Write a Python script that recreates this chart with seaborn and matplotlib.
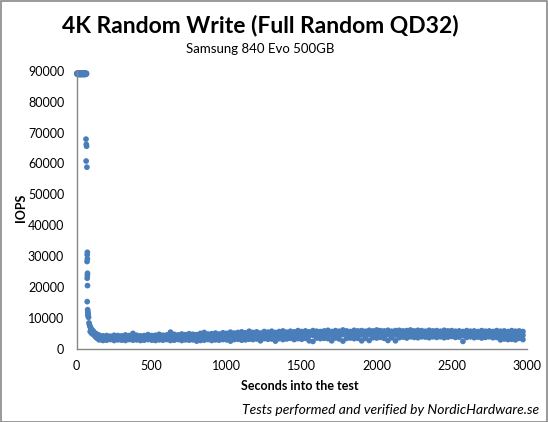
import numpy as np
import pandas as pd
import matplotlib
matplotlib.use("Agg")
import matplotlib.pyplot as plt
import seaborn as sns
from matplotlib.patches import Rectangle

# ---- data ----
# initial burst plateau
burst_t = [0, 2, 4, 6, 8, 10, 12, 14, 16, 18, 20, 22, 24, 26, 28, 30, 32, 34,
           36, 38, 40, 42, 44, 46, 48, 50, 52, 54, 56, 58, 60, 62, 64, 66]
burst_v = [89200, 89000, 89300, 88900, 89100, 89400, 89000, 89200, 88800, 89300,
           89100, 89000, 89400, 88900, 89200, 89100, 88800, 89300, 89000, 89200,
           89400, 88900, 89100, 89300, 89000, 88800, 89200, 89400, 89000, 89100,
           88900, 89300, 89000, 89200]

# transition points after the burst
drop_t = [62, 64, 66, 63, 68,
          71, 70, 71, 69, 72, 71, 70, 72, 70,
          73, 74, 75, 76, 77, 79, 76,
          82, 85, 88, 92, 95, 100, 105, 110, 115, 120, 128, 135, 142,
          90, 98, 108, 118, 125, 132, 140, 148]
drop_v = [67900, 66200, 65600, 60800, 58800,
          31200, 30400, 29100, 28200, 24400, 23700, 22800, 20400, 15200,
          12600, 12000, 11500, 11000, 10500, 10100, 10800,
          8300, 7700, 7200, 6800, 6500, 6000, 5900, 5600, 5300, 5000, 4800, 4600, 4400,
          5500, 5000, 4600, 4300, 3800, 3500, 3200, 3000]

# steady-state band, every 25 s from 150 s to 2975 s
band_t = list(range(150, 3000, 25))
band_hi = [
    4300, 4100, 4200, 4000, 4300, 4200, 4100, 4400, 4200, 4900,   # 150-375
    4300, 4100, 4200, 4500, 4200, 4300, 4600, 4300, 4400, 5300,   # 400-625
    4600, 4400, 4700, 4500, 4800, 4600, 4500, 4900, 5200, 4700,   # 650-875
    4800, 5000, 4700, 5100, 4900, 5300, 5000, 5200, 5400, 5100,   # 900-1125
    5600, 5200, 5400, 5000, 5500, 5300, 5600, 5200, 5500, 5700,   # 1150-1375
    5300, 5600, 5400, 5800, 5500, 5700, 5400, 5800, 5600, 5500,   # 1400-1625
    5700, 5900, 5500, 5800, 5600, 6000, 5700, 5500, 5900, 5700,   # 1650-1875
    5800, 5600, 5900, 5700, 6000, 5800, 5700, 5900, 5600, 5800,   # 1900-2125
    5900, 5700, 5800, 6000, 5700, 5900, 5800, 5600, 5900, 5700,   # 2150-2375
    5800, 5600, 5900, 5700, 5800, 5600, 5700, 5500, 5800, 5600,   # 2400-2625
    5700, 5500, 5800, 5600, 5700, 5500, 5800, 5600, 5700, 5500,   # 2650-2875
    5800, 5600, 5700, 5500,                                       # 2900-2975
]
band_mid = [
    3500, 3300, 3400, 3200, 3500, 3400, 3300, 3600, 3400, 3700,
    3500, 3300, 3400, 3700, 3400, 3500, 3700, 3400, 3600, 4100,
    3600, 3700, 3500, 3600, 3800, 3600, 3500, 3800, 3900, 3700,
    3700, 3900, 3600, 4000, 3800, 4000, 3900, 4100, 4200, 3900,
    4300, 4000, 4200, 3900, 4300, 4100, 4400, 4000, 4300, 4400,
    4200, 4400, 4200, 4500, 4300, 4500, 4200, 4300, 4500, 4300,
    4500, 4600, 4300, 4600, 4400, 4500, 4500, 4400, 4600, 4500,
    4400, 4500, 4500, 4600, 4700, 4700, 4500, 4500, 4500, 4400,
    4700, 4700, 4600, 4900, 4600, 4700, 4800, 4600, 4700, 4700,
    4700, 4700, 4700, 4700, 4800, 4600, 4600, 4200, 4700, 4700,
    4600, 4600, 4600, 4600, 4700, 4500, 4700, 4300, 4400, 4300,
    4500, 4200, 4500, 4300,
]
band_lo = [
    2800, 2600, 2700, 2900, 2600, 2800, 2700, 2600, 2900, 2700,
    2800, 2600, 2700, 2900, 2700, 2600, 2800, 2700, 2900, 2600,
    2700, 2900, 2600, 2800, 2700, 2800, 2400, 2600, 2700, 2900,
    2600, 2800, 2700, 2900, 2800, 2400, 2900, 3000, 2700, 2800,
    3000, 2900, 3100, 2500, 3200, 3000, 3100, 2400, 3200, 2900,
    3100, 3300, 2900, 3200, 3000, 3300, 2500, 2300, 3400, 3200,
    3300, 3200, 2500, 3400, 3100, 2400, 3300, 3400, 3200, 3300,
    2500, 3300, 2600, 3500, 3400, 3600, 3300, 2600, 3500, 2500,
    3500, 3700, 3400, 3800, 3600, 3500, 3800, 3700, 3500, 3800,
    3600, 3800, 3500, 3700, 3900, 3600, 3700, 2300, 3600, 3800,
    3500, 3700, 3400, 3600, 3800, 3500, 3600, 2800, 3100, 2900,
    3000, 2800, 3300, 2900,
]

x_ticks = [0, 500, 1000, 1500, 2000, 2500, 3000]
y_ticks = [0, 10000, 20000, 30000, 40000, 50000, 60000, 70000, 80000, 90000]

title = "4K Random Write (Full Random QD32)"
subtitle = "Samsung 840 Evo 500GB"
xlabel = "Seconds into the test"
ylabel = "IOPS"
footer = "Tests performed and verified by NordicHardware.se"

# ---- build table ----
df = pd.DataFrame({
    "t": burst_t + drop_t + band_t * 3,
    "iops": burst_v + drop_v + band_hi + band_mid + band_lo,
})

sns.set_theme(style="white")
plt.rcParams["font.family"] = ["Lato", "DejaVu Sans"]
plt.rcParams["text.color"] = "black"
plt.rcParams["axes.labelcolor"] = "black"

W, H = 548, 422
fig = plt.figure(figsize=(W / 100, H / 100), dpi=100)
fig.patch.set_facecolor("white")
ax = fig.add_axes([76.7 / W, 1 - 348.5 / H, (526.7 - 76.7) / W, (348.5 - 71) / H])

sns.scatterplot(data=df, x="t", y="iops", ax=ax, color="#4A7EBB",
                s=17, linewidth=0, edgecolor="none", clip_on=False)

ax.set_xlim(0, 3000)
ax.set_ylim(0, 90000)
ax.set_xticks(x_ticks)
ax.set_yticks(y_ticks)
ax.set_xticklabels([str(v) for v in x_ticks])
ax.set_yticklabels([str(v) for v in y_ticks])
ax.set_xlabel("")
ax.set_ylabel("")
for side in ["top", "right"]:
    ax.spines[side].set_visible(False)
for side in ["left", "bottom"]:
    ax.spines[side].set_color("#878787")
    ax.spines[side].set_linewidth(1.0)
ax.tick_params(axis="both", direction="out", length=5, width=1.0,
               color="#878787", labelsize=9, labelcolor="black", pad=3)
ax.tick_params(axis="y", pad=4)
ax.grid(False)

fig.text(260 / W, 1 - 25 / H, title, ha="center", va="center",
         fontsize=16.5, fontweight="bold", color="black")
fig.text(260 / W, 1 - 49 / H, subtitle, ha="center", va="center",
         fontsize=9.5, color="black")
fig.text(300 / W, 1 - 385.5 / H, xlabel, ha="center", va="center",
         fontsize=9, fontweight="bold", color="black")
fig.text(21 / W, 1 - 208 / H, ylabel, ha="center", va="center",
         fontsize=9, fontweight="bold", rotation=90, color="black")
fig.text(539 / W, 1 - 410.5 / H, footer, ha="right", va="center",
         fontsize=10, style="italic", color="black")

fig.patches.append(Rectangle((0.5 / W, 0.5 / H), 1 - 1.5 / W, 1 - 1.5 / H,
                             transform=fig.transFigure, fill=False,
                             edgecolor="#888888", linewidth=1.2))

fig.savefig("out.png", dpi=100, facecolor="white")
